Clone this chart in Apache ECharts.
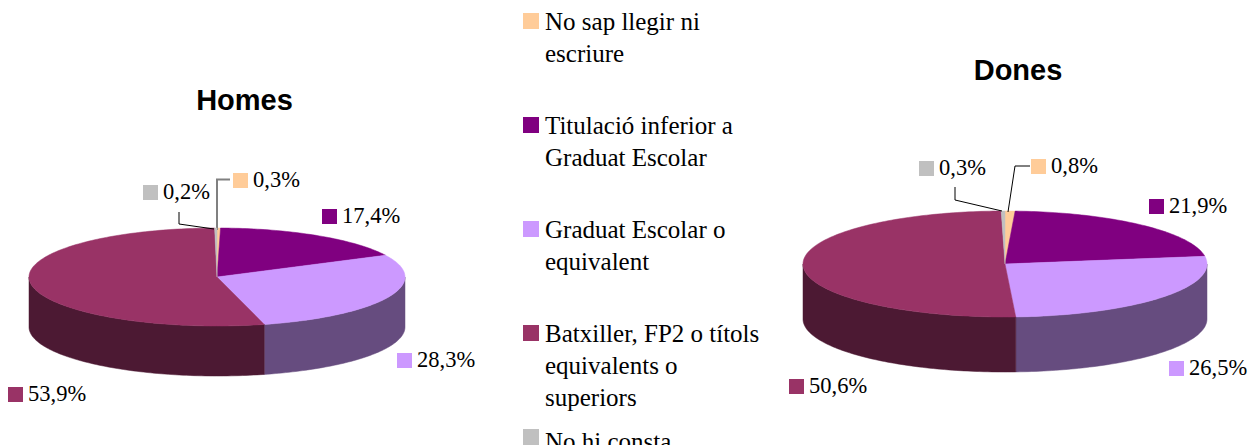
<!DOCTYPE html>
<html>
<head>
<meta charset="utf-8">
<style>
  html, body { margin: 0; padding: 0; background: #fff; }
  #chart { width: 1250px; height: 445px; }
</style>
<script src="https://cdn.jsdelivr.net/npm/echarts@6/dist/echarts.min.js"></script>
</head>
<body>
<div id="chart"></div>
<script>
var categories = ['No sap llegir ni\nescriure', 'Titulació inferior a\nGraduat Escolar', 'Graduat Escolar o\nequivalent', 'Batxiller, FP2 o títols\nequivalents o\nsuperiors', 'No hi consta'];
var homesValues = [0.3, 17.4, 28.3, 53.9, 0.2];
var donesValues = [0.8, 21.9, 26.5, 50.6, 0.3];
var topColors = ['#FFCC99', '#800080', '#CC99FF', '#993366', '#C0C0C0'];
var sideColors = ['#7F664C', '#400040', '#664C7F', '#4C1933', '#606060'];

var serif = '"Liberation Serif", "Times New Roman", serif';
var sans = '"Liberation Sans", Arial, sans-serif';

// pie geometry: ellipse centre, radii and wall height
var homesPie = { cx: 217, cy: 277, rx: 188, ry: 49, depth: 50 };
var donesPie = { cx: 1005, cy: 264, rx: 202, ry: 53, depth: 55 };
// swatch position of each data label
var homesLabels = [[233, 173], [322, 209], [397, 353], [8, 387], [143, 185]];
var donesLabels = [[1031, 159], [1149, 199], [1169, 361], [789, 379], [919, 161]];
// leader lines, only for the two tiny slices
var homesLeaders = { 0: { color: '#808080', width: 2, pts: [[230, 179.5], [217, 179.5], [217, 230]] }, 4: { color: '#000', width: 1, pts: [[179, 212], [179, 224], [214, 229]] } };
var donesLeaders = { 0: { color: '#000', width: 1, pts: [[1030, 166], [1015, 166], [1008, 212]] }, 4: { color: '#000', width: 1, pts: [[955, 187], [955, 200], [1002, 211]] } };

function arcPoints(pie, a0, a1, dy) {
  var pts = [];
  var n = Math.max(2, Math.ceil((a1 - a0) / 0.02));
  for (var i = 0; i <= n; i++) {
    var a = a0 + (a1 - a0) * i / n;
    pts.push([pie.cx + pie.rx * Math.sin(a), pie.cy - pie.ry * Math.cos(a) + dy]);
  }
  return pts;
}

function pieSeries(name, values, pie, labels, leaders) {
  var total = values.reduce(function (s, v) { return s + v; }, 0);
  return {
    name: name,
    type: 'custom',
    coordinateSystem: 'none',
    data: values.map(function (v, i) { return { name: categories[i], value: [v, i] }; }),
    renderItem: function (params, api) {
      var idx = api.value(1);
      var before = 0;
      for (var k = 0; k < idx; k++) before += values[k];
      var a0 = before / total * Math.PI * 2;
      var a1 = (before + values[idx]) / total * Math.PI * 2;
      var children = [];

      // outer wall: only the part facing the viewer
      var w0 = Math.max(a0, Math.PI / 2), w1 = Math.min(a1, Math.PI * 3 / 2);
      if (w1 > w0) {
        var wall = arcPoints(pie, w0, w1, 0).concat(arcPoints(pie, w0, w1, pie.depth).reverse());
        children.push({ type: 'polygon', shape: { points: wall }, style: { fill: sideColors[idx], stroke: sideColors[idx], lineWidth: 0.5 } });
      }
      var face = [[pie.cx, pie.cy]].concat(arcPoints(pie, a0, a1, 0));
      children.push({ type: 'polygon', shape: { points: face }, style: { fill: topColors[idx], stroke: topColors[idx], lineWidth: 0.5 } });

      if (leaders[idx]) {
        children.push({ type: 'polyline', shape: { points: leaders[idx].pts }, style: { fill: null, stroke: leaders[idx].color, lineWidth: leaders[idx].width } });
      }
      var pos = labels[idx];
      children.push({ type: 'rect', shape: { x: pos[0], y: pos[1], width: 15, height: 15 }, style: { fill: topColors[idx] } });
      children.push({
        type: 'text',
        style: {
          x: pos[0] + 20, y: pos[1] + 6,
          text: values[idx].toFixed(1).replace('.', ',') + '%',
          font: '22.5px ' + serif, fill: '#000', verticalAlign: 'middle'
        }
      });
      return { type: 'group', children: children };
    }
  };
}

// legend column, drawn by hand because swatches sit on the first text line
var legendTops = [13, 117, 221, 325, 429];
var legendGraphic = [];
categories.forEach(function (c, i) {
  // the last row runs into the page edge, so it gets a tight line box
  var lh = c.indexOf('\n') < 0 ? 16 : 32;
  legendGraphic.push({ type: 'rect', left: 523, top: legendTops[i], shape: { width: 16, height: 16 }, style: { fill: topColors[i] } });
  legendGraphic.push({ type: 'text', left: 545, top: legendTops[i] + 8 - lh / 2, style: { text: c, font: '25px ' + serif, lineHeight: lh, fill: '#000' } });
});

var chart = echarts.init(document.getElementById('chart'), null, { renderer: 'svg' });
chart.setOption({
  animation: false,
  backgroundColor: '#fff',
  title: [
    { text: 'Homes', left: 239.5, top: 80, textAlign: 'center', textStyle: { fontFamily: sans, fontSize: 29, fontWeight: 'bold', color: '#000' } },
    { text: 'Dones', left: 1013, top: 50, textAlign: 'center', textStyle: { fontFamily: sans, fontSize: 29, fontWeight: 'bold', color: '#000' } }
  ],
  graphic: legendGraphic,
  series: [
    pieSeries('Homes', homesValues, homesPie, homesLabels, homesLeaders),
    pieSeries('Dones', donesValues, donesPie, donesLabels, donesLeaders)
  ]
});
window.addEventListener('resize', function () { chart.resize(); });
</script>
</body>
</html>
